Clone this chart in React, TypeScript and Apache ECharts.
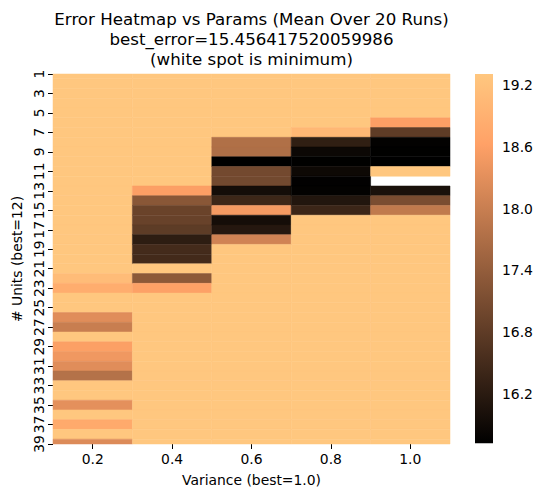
import React, { useEffect, useRef } from 'react';
import * as echarts from 'echarts';

// Categories
const VARIANCES = ['0.2', '0.4', '0.6', '0.8', '1.0'];
const UNITS = ['1','2','3','4','5','6','7','8','9','10','11','12','13','14','15','16','17','18','19','20',
  '21','22','23','24','25','26','27','28','29','30','31','32','33','34','35','36','37','38','39'];

// Mean error per #units (rows 1..39), one list per variance column
const ERR_V02 = [19.31,19.31,19.31,19.31,19.31,19.31,19.31,19.31,19.31,19.31,19.31,19.31,19.31,19.31,19.31,19.31,19.31,19.31,19.31,19.31,
  19.31,19.11,18.84,19.31,19.31,18.27,18.00,19.31,18.60,18.46,18.27,17.77,19.31,19.31,18.32,19.31,18.78,19.31,18.23];
const ERR_V04 = [19.31,19.31,19.31,19.31,19.31,19.31,19.31,19.31,19.31,19.31,19.31,19.31,18.59,17.29,16.93,16.91,16.79,16.24,16.50,16.48,
  19.31,17.32,18.62,19.31,19.31,19.31,19.31,19.31,19.31,19.31,19.31,19.31,19.31,19.31,19.31,19.31,19.31,19.31,19.31];
const ERR_V06 = [19.31,19.31,19.31,19.31,19.31,19.31,19.31,17.73,17.71,15.72,17.04,17.03,15.95,16.42,18.50,15.96,16.14,18.09,19.31,19.31,
  19.31,19.31,19.31,19.31,19.31,19.31,19.31,19.31,19.31,19.31,19.31,19.31,19.31,19.31,19.31,19.31,19.31,19.31,19.31];
const ERR_V08 = [19.31,19.31,19.31,19.31,19.31,19.31,19.04,16.27,15.86,15.73,15.88,15.74,15.75,16.11,16.40,19.31,19.31,19.31,19.31,19.31,
  19.31,19.31,19.31,19.31,19.31,19.31,19.31,19.31,19.31,19.31,19.31,19.31,19.31,19.31,19.31,19.31,19.31,19.31,19.31];
const ERR_V10 = [19.31,19.31,19.31,19.31,19.31,18.59,16.80,15.76,15.73,15.72,19.31,15.456417520059986,16.02,17.11,17.91,19.31,19.31,19.31,19.31,19.31,
  19.31,19.31,19.31,19.31,19.31,19.31,19.31,19.31,19.31,19.31,19.31,19.31,19.31,19.31,19.31,19.31,19.31,19.31,19.31];
const COLUMNS = [ERR_V02, ERR_V04, ERR_V06, ERR_V08, ERR_V10];

const BEST_ERROR = 15.456417520059986;
const COLORBAR_TICKS = [16.2, 16.8, 17.4, 18.0, 18.6, 19.2];

const TITLE_LINES = [
  'Error Heatmap vs Params (Mean Over 20 Runs)',
  'best_error=' + String(BEST_ERROR),
  '(white spot is minimum)',
];

const FONT = '"DejaVu Sans", Verdana, sans-serif';

// matplotlib "copper" colormap
function copper(t: number): string {
  const r = Math.min(1, t / 0.809524);
  const g = 0.7812 * t;
  const b = 0.4975 * t;
  return `rgb(${Math.round(r * 255)},${Math.round(g * 255)},${Math.round(b * 255)})`;
}

export default function App() {
  const ref = useRef<HTMLDivElement>(null);

  useEffect(() => {
    if (!ref.current) return;
    const chart = echarts.init(ref.current, undefined, { renderer: 'svg' });

    // Build heatmap cells; the minimum cell is masked (left white)
    const cells: number[][] = [];
    const shown: number[] = [];
    COLUMNS.forEach((col, xi) => {
      col.forEach((v, yi) => {
        if (v === BEST_ERROR) return;
        cells.push([xi, yi, v]);
        shown.push(v);
      });
    });
    const vmin = Math.min(...shown);
    const vmax = Math.max(...shown);

    const stops: string[] = [];
    for (let k = 0; k <= 60; k++) stops.push(copper(k / 60));

    const textStyle = { color: '#000', fontFamily: FONT, fontSize: 13.9 };

    chart.setOption({
      animation: false,
      backgroundColor: '#fff',
      textStyle: { fontFamily: FONT },
      grid: [
        { left: 53, top: 74, width: 397, height: 370, containLabel: false },
        { left: 475, top: 74, width: 18, height: 369.3, containLabel: false },
      ],
      xAxis: [
        {
          type: 'category', gridIndex: 0, data: VARIANCES, boundaryGap: true,
          axisLine: { show: false },
          axisTick: { show: true, alignWithLabel: true, length: 5, lineStyle: { color: '#000', width: 1 } },
          axisLabel: { ...textStyle, margin: 8 },
          splitLine: { show: false },
          name: 'Variance (best=1.0)', nameLocation: 'middle', nameGap: 29,
          nameTextStyle: { ...textStyle },
        },
        { type: 'value', gridIndex: 1, min: 0, max: 1, show: false },
      ],
      yAxis: [
        {
          type: 'category', gridIndex: 0, data: UNITS, inverse: true, boundaryGap: false,
          axisLine: { show: false },
          axisTick: { show: true, interval: 1, length: 5, lineStyle: { color: '#000', width: 1 } },
          axisLabel: { ...textStyle, interval: 1, rotate: 90, margin: 7 },
          splitLine: { show: false },
          name: '# Units (best=12)', nameLocation: 'middle', nameGap: 29, nameRotate: 90,
          nameTextStyle: { ...textStyle },
        },
        {
          type: 'value', gridIndex: 1, position: 'right', min: vmin, max: vmax,
          axisLine: { show: false },
          splitLine: { show: false },
          axisTick: { show: true, length: 5, customValues: COLORBAR_TICKS, lineStyle: { color: '#000', width: 1 } },
          axisLabel: { ...textStyle, margin: 9, customValues: COLORBAR_TICKS, formatter: (v: number) => v.toFixed(1) },
        },
      ],
      visualMap: {
        show: false, type: 'continuous', seriesIndex: 0, dimension: 2,
        min: vmin, max: vmax, inRange: { color: stops },
      },
      graphic: TITLE_LINES.map((t, i) => ({
        type: 'text',
        x: 251.5,
        y: 19.7 + i * 20,
        silent: true,
        style: {
          text: t, fill: '#000', fontFamily: FONT, fontSize: 16.67,
          align: 'center', verticalAlign: 'middle', textAlign: 'center', textVerticalAlign: 'middle',
        },
      })),
      series: [
        {
          type: 'custom', xAxisIndex: 0, yAxisIndex: 0, data: cells,
          encode: { x: 0, y: 1 },
          renderItem: (params: any, api: any) => {
            const c = api.coord([api.value(0), api.value(1)]);
            const s = api.size([1, 1], [api.value(0), api.value(1)]);
            const cs = params.coordSys;
            const rect = echarts.graphic.clipRectByRect(
              { x: c[0] - s[0] / 2, y: c[1] - s[1] / 2, width: s[0], height: s[1] },
              { x: cs.x, y: cs.y, width: cs.width, height: cs.height }
            );
            if (!rect) return null;
            const col = api.visual('color');
            return { type: 'rect', shape: rect, style: { fill: col, stroke: col, lineWidth: 0.5 } };
          },
        },
        {
          type: 'custom', xAxisIndex: 1, yAxisIndex: 1, data: [[0.5, vmin, vmax]],
          silent: true,
          renderItem: (params: any, api: any) => {
            const cs = params.coordSys;
            const top = api.coord([0.5, api.value(2)])[1];
            const bottom = api.coord([0.5, api.value(1)])[1];
            return {
              type: 'rect',
              shape: { x: cs.x, y: top, width: cs.width, height: bottom - top },
              style: {
                fill: new echarts.graphic.LinearGradient(0, 0, 0, 1, [
                  { offset: 0, color: copper(1) },
                  { offset: 1 - 0.809524, color: copper(0.809524) },
                  { offset: 1, color: copper(0) },
                ]),
              },
            };
          },
        },
      ],
    });

    return () => chart.dispose();
  }, []);

  return (
    <div
      ref={ref}
      style={{ position: 'fixed', left: 0, top: 0, width: 544, height: 497, background: '#fff' }}
    />
  );
}
